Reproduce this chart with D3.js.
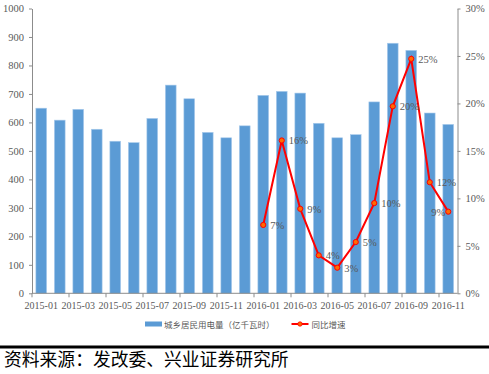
<!DOCTYPE html>
<html><head><meta charset="utf-8">
<script src="https://cdn.jsdelivr.net/npm/d3@7"></script>
<style>body{margin:0;background:#fff;}svg{display:block;}</style>
</head><body>
<script>
const months = ["2015-01","2015-02","2015-03","2015-04","2015-05","2015-06","2015-07","2015-08","2015-09","2015-10","2015-11","2015-12",
"2016-01","2016-02","2016-03","2016-04","2016-05","2016-06","2016-07","2016-08","2016-09","2016-10","2016-11"];
const consumption = [650,608,646,576,534,529,614,731,683,565,546,588,695,709,703,597,546,557,672,878,853,633,593];
const growthMonths = ["2016-01","2016-02","2016-03","2016-04","2016-05","2016-06","2016-07","2016-08","2016-09","2016-10","2016-11"];
const growth = [7.2,16.1,8.9,4.0,2.7,5.4,9.5,19.7,24.7,11.7,8.6];
const growthLabels = ["7%","16%","9%","4%","3%","5%","10%","20%","25%","12%","9%"];
const leftTicks = [0,100,200,300,400,500,600,700,800,900,1000];
const rightTicks = [0,5,10,15,20,25,30];
const xTickLabels = ["2015-01","2015-03","2015-05","2015-07","2015-09","2015-11","2016-01","2016-03","2016-05","2016-07","2016-09","2016-11"];
const legendBar = "城乡居民用电量（亿千瓦时）";
const legendLine = "同比增速";
const sourceText = "资料来源：发改委、兴业证券研究所";

const W = 489, H = 374;
const m = {left:32, right:457.5, top:8.5, bottom:293.3};
const svg = d3.select("body").append("svg").attr("width",W).attr("height",H);
const serif = "'Liberation Serif','Times New Roman',serif";
const cjk = "'Noto Sans CJK SC',sans-serif";
const axisCol = "#8c8c8c", textCol = "#595959";

const x = d3.scaleBand().domain(months).range([m.left,m.right]).paddingInner(0.42).paddingOuter(0.21);
const step = (m.right-m.left)/months.length;
const yL = d3.scaleLinear().domain([0,1000]).range([m.bottom,m.top]);
const yR = d3.scaleLinear().domain([0,30]).range([m.bottom,m.top]);

// bars
svg.append("g").selectAll("rect").data(consumption).join("rect")
  .attr("x",(d,i)=>x(months[i])).attr("width",x.bandwidth())
  .attr("y",d=>yL(d)).attr("height",d=>yL(0)-yL(d))
  .attr("fill","#5b9bd5").attr("stroke","#a9cbec").attr("stroke-width",0.6);

// left axis
const gL = svg.append("g").attr("transform",`translate(${m.left},0)`)
  .call(d3.axisLeft(yL).tickValues(leftTicks).tickSize(3).tickSizeOuter(0).tickPadding(5).tickFormat(d3.format("d")));
// right axis
const gR = svg.append("g").attr("transform",`translate(${m.right},0)`)
  .call(d3.axisRight(yR).tickValues(rightTicks).tickSize(3).tickSizeOuter(0).tickPadding(5).tickFormat(d=>d+"%"));
// x axis: ticks at boundaries every 2 categories, labels at centers
const gX = svg.append("g").attr("transform",`translate(0,${m.bottom})`);
gX.append("line").attr("x1",m.left).attr("x2",m.right).attr("stroke",axisCol);
const tickIdx = d3.range(0,months.length+1,2);
gX.selectAll("line.t").data(tickIdx).join("line").attr("class","t")
  .attr("x1",i=>m.left+i*step).attr("x2",i=>m.left+i*step).attr("y1",0).attr("y2",4).attr("stroke",axisCol);
gX.selectAll("text").data(xTickLabels).join("text")
  .attr("x",d=>x(d)+x.bandwidth()/2).attr("y",16)
  .attr("text-anchor","middle").attr("font-family",serif).attr("font-size",10).attr("fill",textCol).text(d=>d);

[gL,gR].forEach(g=>{
  g.selectAll(".domain").attr("stroke",axisCol);
  g.selectAll(".tick line").attr("stroke",axisCol);
  g.selectAll(".tick text").attr("font-family",serif).attr("font-size",10.5).attr("fill",textCol);
});

// line
const cx = d=>x(d)+x.bandwidth()/2;
const pts = growth.map((v,i)=>[cx(growthMonths[i]),yR(v)]);
svg.append("path").datum(pts).attr("d",d3.line()).attr("fill","none").attr("stroke","#ff0000").attr("stroke-width",2);
svg.append("g").selectAll("circle").data(pts).join("circle")
  .attr("cx",d=>d[0]).attr("cy",d=>d[1]).attr("r",2.6)
  .attr("fill","#ff6a00").attr("stroke","#ff0000").attr("stroke-width",1);
svg.append("g").selectAll("text").data(pts).join("text")
  .attr("x",(d,i)=>i===pts.length-1? d[0]-3 : d[0]+7)
  .attr("y",d=>d[1]+4)
  .attr("text-anchor",(d,i)=>i===pts.length-1?"end":"start")
  .attr("font-family",serif).attr("font-size",10.5).attr("fill",textCol)
  .text((d,i)=>growthLabels[i]);

// legend
const lg = svg.append("g");
lg.append("rect").attr("x",145).attr("y",321.5).attr("width",17).attr("height",5).attr("fill","#5b9bd5");
lg.append("text").attr("x",164).attr("y",327.5).attr("font-family",cjk).attr("font-size",8.5).attr("fill",textCol).text(legendBar);
lg.append("line").attr("x1",291.5).attr("x2",308.5).attr("y1",324).attr("y2",324).attr("stroke","#ff0000").attr("stroke-width",2);
lg.append("circle").attr("cx",300).attr("cy",324).attr("r",2.2).attr("fill","#ff6a00").attr("stroke","#ff0000").attr("stroke-width",0.8);
lg.append("text").attr("x",311.5).attr("y",327.5).attr("font-family",cjk).attr("font-size",8.5).attr("fill",textCol).text(legendLine);

// separator + source
svg.append("rect").attr("x",0).attr("y",345.5).attr("width",W).attr("height",3).attr("fill","#000");
svg.append("text").attr("x",4).attr("y",366).attr("font-family",cjk).attr("font-size",17.8).attr("fill","#000").text(sourceText);
</script>
</body></html>
